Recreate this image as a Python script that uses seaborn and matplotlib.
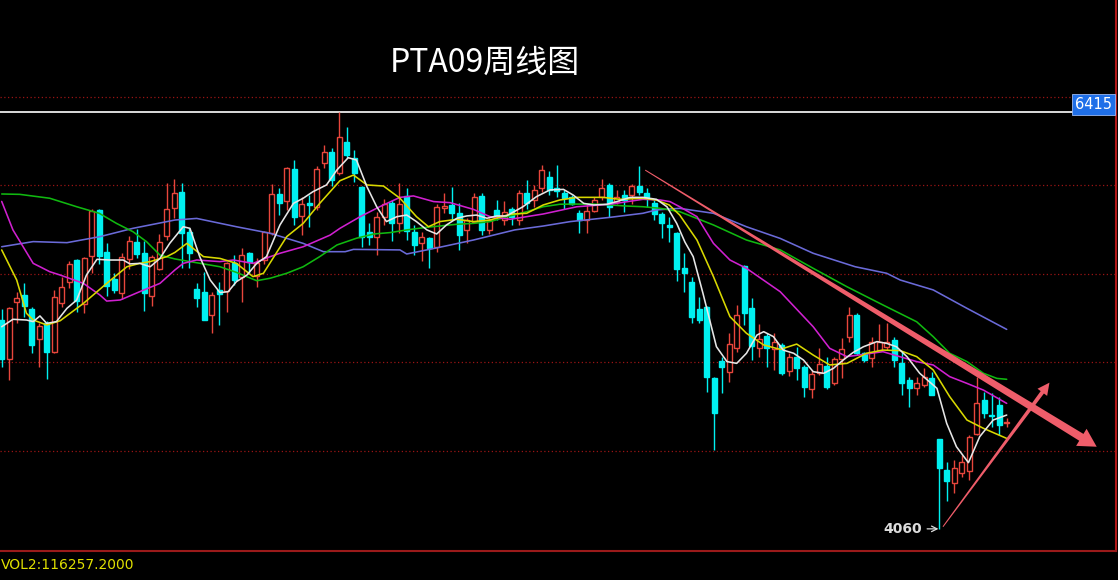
import numpy as np
import pandas as pd
import matplotlib
matplotlib.use('Agg')
import matplotlib.pyplot as plt
import seaborn as sns
from matplotlib.patches import Polygon
from matplotlib.transforms import IdentityTransform

# 周K线数据
opens = [5240, 5018, 5340, 5381, 5302, 5131, 5221, 5058, 5338, 5457,
         5579, 5329, 5604, 5862, 5626, 5470, 5391, 5585, 5683, 5621,
         5376, 5526, 5715, 5871, 5965, 5739, 5413, 5400, 5268, 5410,
         5404, 5560, 5485, 5617, 5489, 5579, 5730, 5950, 5914, 6091,
         5828, 5903, 5877, 6125, 6191, 6069, 6248, 6153, 5993, 5739,
         5711, 5824, 5903, 5786, 5941, 5739, 5673, 5705, 5654, 5871,
         5890, 5847, 5749, 5796, 5941, 5749, 5862, 5805, 5865, 5805,
         5960, 5918, 5984, 6050, 5984, 5956, 5933, 5847, 5805, 5858,
         5933, 6003, 5909, 5946, 5946, 5997, 5956, 5903, 5839, 5777,
         5734, 5532, 5457, 5302, 5315, 4910, 5010, 4948, 5080, 5545,
         5310, 5080, 5150, 5074, 5099, 4954, 5029, 4973, 4848, 4939,
         4980, 4886, 5018, 5146, 5268, 5052, 5023, 5070, 5089, 5127,
         4995, 4901, 4854, 4873, 4910, 4566, 4392, 4317, 4374, 4389,
         4596, 4788, 4703, 4760, 4660]
highs = [5302, 5316, 5400, 5447, 5316, 5221, 5236, 5410, 5485, 5575,
         5585, 5598, 5865, 5865, 5673, 5504, 5617, 5715, 5752, 5688,
         5606, 5724, 6016, 6037, 6012, 5758, 5447, 5513, 5400, 5457,
         5570, 5607, 5645, 5626, 5588, 5745, 6008, 5984, 6103, 6144,
         5933, 5946, 6110, 6229, 6210, 6415, 6329, 6201, 5997, 5786,
         5852, 5922, 5918, 6016, 5988, 5777, 5739, 5711, 5895, 5956,
         5993, 5899, 5815, 5960, 5960, 5815, 5918, 5914, 5880, 5975,
         6031, 6003, 6116, 6084, 6116, 5975, 5946, 5862, 5895, 5933,
         6035, 6012, 5975, 5975, 6008, 6110, 5984, 5918, 5852, 5824,
         5739, 5617, 5481, 5372, 5319, 4920, 5033, 5165, 5325, 5551,
         5362, 5217, 5165, 5168, 5108, 5055, 5086, 4986, 4958, 5080,
         5029, 5033, 5136, 5315, 5278, 5061, 5146, 5217, 5221, 5146,
         5061, 4920, 4920, 4967, 4948, 4566, 4440, 4449, 4477, 4590,
         4920, 4835, 4826, 4807, 4684]
lows = [4976, 4901, 5221, 5259, 5056, 4976, 4905, 5052, 5316, 5419,
        5283, 5278, 5504, 5557, 5378, 5391, 5357, 5526, 5592, 5291,
        5319, 5523, 5692, 5814, 5532, 5532, 5315, 5240, 5165, 5212,
        5287, 5438, 5344, 5504, 5429, 5557, 5720, 5833, 5862, 5777,
        5720, 5767, 5862, 6100, 5997, 6060, 6153, 6022, 5651, 5664,
        5607, 5777, 5688, 5730, 5692, 5607, 5575, 5532, 5626, 5843,
        5805, 5636, 5673, 5786, 5720, 5726, 5805, 5777, 5777, 5777,
        5865, 5880, 5965, 5946, 5933, 5865, 5890, 5730, 5733, 5852,
        5918, 5824, 5895, 5852, 5895, 5946, 5880, 5805, 5701, 5683,
        5462, 5400, 5221, 5221, 4835, 4506, 4826, 4892, 5061, 5212,
        5014, 5033, 4976, 4957, 4929, 4924, 4901, 4807, 4797, 4929,
        4848, 4873, 4910, 5118, 5042, 5005, 4973, 5070, 5070, 4973,
        4816, 4750, 4816, 4863, 4816, 4060, 4219, 4261, 4355, 4336,
        4590, 4684, 4637, 4590, 4637]
closes = [5018, 5310, 5366, 5319, 5099, 5208, 5058, 5372, 5428, 5555,
          5347, 5592, 5858, 5604, 5434, 5410, 5598, 5688, 5611, 5391,
          5598, 5683, 5865, 5959, 5730, 5617, 5362, 5240, 5381, 5387,
          5560, 5466, 5607, 5570, 5564, 5739, 5950, 5899, 6097, 5824,
          5894, 5890, 6091, 6191, 6031, 6276, 6172, 6073, 5711, 5711,
          5824, 5895, 5786, 5895, 5745, 5664, 5711, 5645, 5877, 5884,
          5847, 5720, 5805, 5933, 5749, 5805, 5828, 5852, 5824, 5956,
          5899, 5975, 6088, 5975, 5971, 5927, 5896, 5805, 5858, 5918,
          5988, 5880, 5933, 5918, 5997, 5965, 5933, 5839, 5786, 5767,
          5526, 5504, 5259, 5240, 4920, 4713, 4976, 5103, 5268, 5280,
          5093, 5131, 5080, 5118, 4939, 5033, 4967, 4860, 4935, 4991,
          4860, 5018, 5074, 5268, 5052, 5014, 5118, 5118, 5118, 5014,
          4882, 4854, 4882, 4920, 4816, 4402, 4330, 4402, 4440, 4581,
          4773, 4716, 4697, 4647, 4666]

# 均线（按K线序号读取）
ma5_x = [0, 1.5, 3.3, 4.2, 5.1, 6, 7.3, 8.7, 10, 11.3, 12.7, 14.4, 16.2, 17.1,
         18.4, 19.8, 21.1, 22.4, 24.2, 25.1, 26.4, 27.8, 29.1, 30.2, 31.3, 32.7,
         34, 35.3, 37.1, 38.9, 40.2, 41.5, 43.3, 44.7, 46.2, 47.3, 48.7, 50,
         51.3, 52.7, 54, 55.3, 56.7, 58, 59.3, 60.7, 62, 63.3, 64.7, 66, 67.3,
         69.5, 71.3, 73.1, 74.9, 76.2, 77.6, 78.9, 80.7, 82, 83.8, 85.5, 87.3,
         88.7, 90, 91.1, 92.2, 93.5, 94.4, 95.3, 96.7, 98, 99.3, 100.7, 101.6,
         102.9, 104.2, 105.6, 106.9, 108.2, 109.6, 110.9, 112.2, 113.5, 114.9,
         116.7, 118, 119.3, 120.7, 122.4, 124.7, 126, 127.3, 128.9, 130.4,
         132.2, 134]
ma5_y = [5202, 5244, 5240, 5231, 5263, 5221, 5231, 5306, 5353, 5494, 5583, 5579,
         5579, 5557, 5560, 5541, 5588, 5673, 5767, 5758, 5598, 5466, 5395, 5400,
         5457, 5494, 5560, 5598, 5777, 5899, 5928, 5965, 6003, 6088, 6157, 6144,
         5993, 5880, 5796, 5824, 5833, 5796, 5749, 5726, 5777, 5815, 5828, 5833,
         5815, 5828, 5828, 5880, 5937, 5975, 5978, 5946, 5899, 5890, 5894, 5909,
         5933, 5933, 5922, 5880, 5786, 5680, 5598, 5391, 5240, 5089, 5005, 4995,
         5052, 5155, 5174, 5146, 5070, 5052, 5014, 4948, 4939, 4967, 5014, 5056,
         5089, 5118, 5108, 5089, 5033, 4939, 4854, 4656, 4524, 4434, 4581, 4675,
         4703]
ma10_x = [0, 2, 3.3, 4.2, 6, 7.8, 10.9, 14, 16.7, 18.4, 19.8, 22, 23.1, 24.7,
          26.9, 29.1, 31.3, 33.5, 34.9, 38, 40.2, 42.4, 45.1, 46.9, 48.7, 50.9,
          53.1, 55.3, 56.9, 58.4, 60.7, 62.9, 65.1, 67.8, 70, 72.2, 74.4, 76.7,
          80.2, 82.4, 85.5, 87.3, 89, 90.4, 92.7, 94.9, 97.1, 99.3, 101.6, 103.8,
          106, 108.2, 110.4, 112.7, 115.3, 117.5, 119.8, 122, 124.2, 126.4, 128.7,
          130.9, 134]
ma10_y = [5636, 5466, 5278, 5240, 5212, 5236, 5334, 5447, 5541, 5560, 5570, 5598,
          5622, 5673, 5598, 5588, 5560, 5485, 5504, 5711, 5786, 5899, 6027, 6059,
          6003, 5997, 5928, 5824, 5767, 5796, 5809, 5796, 5805, 5838, 5843, 5890,
          5918, 5933, 5933, 5922, 5928, 5918, 5890, 5833, 5692, 5485, 5259, 5165,
          5099, 5074, 5104, 5042, 4986, 4995, 5052, 5070, 5067, 5033, 4958, 4807,
          4675, 4628, 4571]
ma20_x = [0, 1.5, 4.2, 5.1, 6.4, 7.8, 10.9, 13.1, 14, 15.8, 18.4, 21.1, 23.1,
          24.2, 26, 29.1, 30.9, 33.5, 35.8, 37.1, 40.2, 43.8, 45.1, 47.8, 50.4,
          53.1, 54.9, 57.6, 59.8, 62.9, 65.1, 67.8, 72.2, 76.7, 81.1, 85.5, 87.8,
          89.1, 90.4, 92.7, 94.9, 97.1, 99.3, 103.8, 108.2, 110.4, 112.7, 117.5,
          122, 124.2, 126.4, 128.7, 130.9, 134]
ma20_y = [5910, 5749, 5560, 5541, 5513, 5494, 5447, 5381, 5347, 5353, 5400, 5447,
          5523, 5560, 5579, 5570, 5579, 5560, 5598, 5617, 5654, 5720, 5758, 5824,
          5880, 5933, 5941, 5909, 5903, 5865, 5824, 5809, 5839, 5880, 5894, 5922,
          5918, 5909, 5880, 5824, 5673, 5579, 5532, 5400, 5202, 5080, 5033, 5061,
          5005, 4986, 4920, 4882, 4844, 4769]
ma40_x = [0, 2.4, 6.4, 10, 13, 15.3, 17.5, 19.3, 21.1, 23.1, 25.1, 29.1, 31.3,
          34, 35.8, 38, 40.2, 42.4, 44.7, 47.3, 49.6, 51.8, 54, 56.7, 58.4, 60.7,
          62.9, 65.1, 67.8, 70, 72.2, 74.4, 76.7, 78.9, 81.1, 83.3, 85.5, 87.8,
          90.4, 94.9, 99.3, 103.8, 108.2, 112.7, 117.5, 122, 124.2, 126.4, 128.7,
          130.9, 132.7, 134]
ma40_y = [5952, 5950, 5928, 5880, 5843, 5786, 5739, 5683, 5607, 5585, 5570, 5541,
          5509, 5462, 5476, 5504, 5541, 5598, 5664, 5702, 5726, 5734, 5749, 5764,
          5771, 5781, 5786, 5796, 5828, 5852, 5880, 5894, 5895, 5895, 5890, 5884,
          5880, 5871, 5852, 5777, 5692, 5636, 5532, 5428, 5325, 5230, 5146, 5052,
          5005, 4939, 4910, 4905]
ma60_x = [0, 4.2, 8.7, 13.1, 17.5, 23.1, 26, 31.3, 35.8, 40.2, 42.9, 45.8, 46.9,
          53.1, 54, 58.4, 62.9, 68.4, 72.2, 75.8, 81.1, 85.5, 87.3, 90.4, 91.8,
          94.9, 99.3, 103.8, 108.2, 113.8, 118, 119.8, 124.2, 128.7, 134]
ma60_y = [5654, 5683, 5677, 5711, 5758, 5805, 5814, 5767, 5730, 5673, 5626, 5626,
          5639, 5636, 5613, 5651, 5692, 5749, 5771, 5796, 5820, 5843, 5862, 5871,
          5862, 5843, 5767, 5701, 5617, 5541, 5504, 5466, 5410, 5306, 5187]

grid_levels = [4500, 5000, 5500, 6000, 6500]
top_price = 6415
low_price = 4060
low_index = 125

# 趋势箭头（序号, 价格）
down_trend = [(85.8, 6087), (146.0, 4524)]
up_trend = [(125.5, 4072), (139.7, 4886)]

title = 'PTA09周线图'
vol_text = 'VOL2:116257.2000'

RED = '#e8463c'
CYAN = '#00f0f0'
ARROW = '#ef5d6a'

sns.set_theme(style='dark', rc={'axes.facecolor': 'black',
                                'figure.facecolor': 'black',
                                'axes.grid': False})
plt.rcParams['font.family'] = ['Noto Sans CJK SC', 'DejaVu Sans']

W, H = 1118, 580
fig = plt.figure(figsize=(W / 100, H / 100), dpi=100)
ax = fig.add_axes([0, (H - 551) / H, 1116 / W, 551 / H])
ax.set_facecolor('black')

px_per_bar = 7.5
x0 = 1.7
ax.set_xlim(-x0 / px_per_bar, (1116 - x0) / px_per_bar)
ax.set_ylim(6500 - 454 * 5.65, 6500 + 97 * 5.65)

df = pd.DataFrame({'o': opens, 'h': highs, 'l': lows, 'c': closes})
df['i'] = np.arange(len(df))
up = df['c'] >= df['o']

# 网格线
for lv in grid_levels:
    ax.axhline(lv, color='#9a1414', linestyle=(0, (1, 2)), linewidth=0.9, zorder=1)

# 最高价线和标签
ax.hlines(top_price, ax.get_xlim()[0], (1076 - x0) / px_per_bar,
          color='white', linewidth=1.2, zorder=2)
ax.text((1112 - x0) / px_per_bar, top_price, str(top_price), color='white',
        fontsize=10.5, family='DejaVu Sans', ha='right', va='bottom', zorder=6,
        bbox=dict(boxstyle='square,pad=0.22', facecolor='#1f6fe8', edgecolor='#9ab8f0',
                  linewidth=0.6))

# K线
colors = np.where(up, RED, CYAN)
ax.vlines(df['i'], df['l'], df['h'], colors=colors, linewidth=1.0, zorder=3)
body_lo = np.minimum(df['o'], df['c'])
body_h = np.maximum(np.abs(df['c'] - df['o']), 2)
ax.bar(df['i'], body_h, bottom=body_lo, width=0.66,
       color=np.where(up, 'black', CYAN), edgecolor=colors, linewidth=1.0, zorder=4)

# 均线
ma_sets = [(ma60_x, ma60_y, '#6a6ad8'), (ma40_x, ma40_y, '#10b810'),
           (ma20_x, ma20_y, '#d020d0'), (ma10_x, ma10_y, '#d8d800'),
           (ma5_x, ma5_y, '#e6e6e6')]
for xs, ys, col in ma_sets:
    sns.lineplot(x=xs, y=ys, ax=ax, color=col, linewidth=1.15, estimator=None,
                 legend=False, zorder=5)


def tapered_arrow(p0, p1, w0, w1, head_len, head_half):
    fig.canvas.draw()
    a = ax.transData.transform(p0)
    b = ax.transData.transform(p1)
    d = b - a
    L = np.hypot(*d)
    u = d / L
    n = np.array([-u[1], u[0]])
    base = b - u * head_len
    pts = [a + n * w0 / 2, base + n * w1 / 2, base + n * head_half, b,
           base - n * head_half, base - n * w1 / 2, a - n * w0 / 2]
    ax.add_patch(Polygon(pts, closed=True, facecolor=ARROW, edgecolor='none',
                         transform=IdentityTransform(), zorder=7, clip_on=False))


tapered_arrow(down_trend[0], down_trend[1], 1.0, 8.0, 18, 10)
tapered_arrow(up_trend[0], up_trend[1], 1.0, 4.0, 12, 6)

# 最低价标注
ax.annotate(str(low_price), xy=(low_index - 0.1, low_price), xytext=(-16, 0),
            textcoords='offset pixels', ha='right', va='center', color='#dcdcdc',
            fontsize=10, fontweight='bold', family='DejaVu Sans', zorder=8,
            arrowprops=dict(arrowstyle='->', color='#dcdcdc', lw=0.9,
                            shrinkA=1, shrinkB=0))

ax.set_xticks([])
ax.set_yticks([])
ax.set_xlabel('')
ax.set_ylabel('')
for side in ['top', 'left']:
    ax.spines[side].set_visible(False)
ax.spines['bottom'].set_color('#9a1a1a')
ax.spines['bottom'].set_linewidth(1.5)
ax.spines['right'].set_color('#b01818')
ax.spines['right'].set_linewidth(1.5)

fig.text(485 / W, 1 - 63 / H, title, color='white', fontsize=23, ha='center', va='center')
fig.text(0.001, 1 - 565 / H, vol_text, color='#e0e000', fontsize=10,
         family='DejaVu Sans', ha='left', va='center')

fig.savefig('out.png', dpi=100, facecolor='black')
